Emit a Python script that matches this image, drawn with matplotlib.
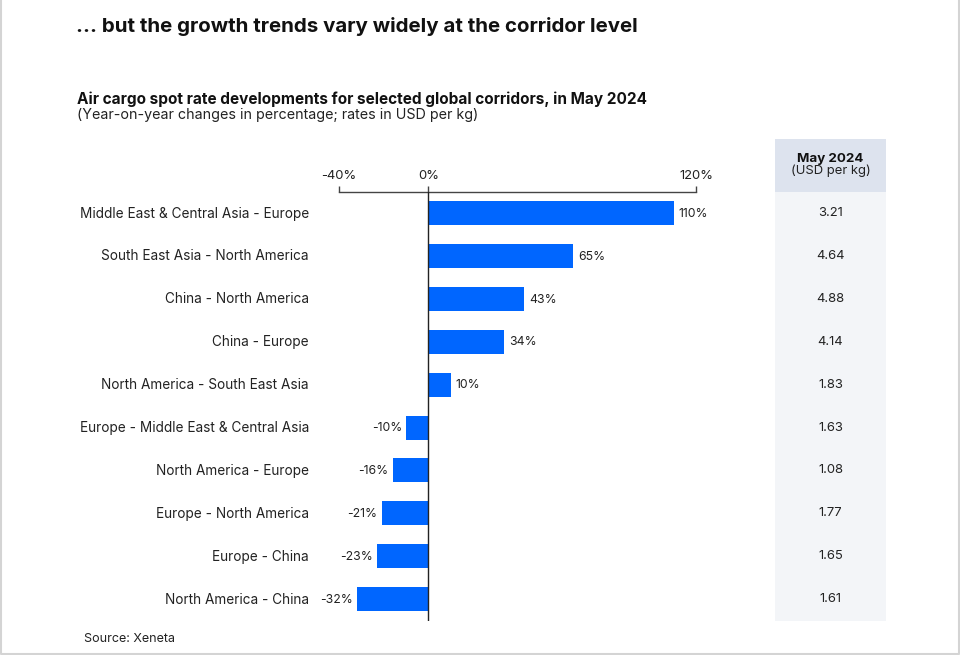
import matplotlib.pyplot as plt
from matplotlib.lines import Line2D
from matplotlib.transforms import ScaledTranslation

plt.rcParams['font.family'] = ['Inter', 'DejaVu Sans']

# Data
corridors = ['Middle East & Central Asia - Europe', 'South East Asia - North America',
             'China - North America', 'China - Europe', 'North America - South East Asia',
             'Europe - Middle East & Central Asia', 'North America - Europe',
             'Europe - North America', 'Europe - China', 'North America - China']
yoy_change = [110, 65, 43, 34, 10, -10, -16, -21, -23, -32]
rates = ['3.21', '4.64', '4.88', '4.14', '1.83', '1.63', '1.08', '1.77', '1.65', '1.61']
xticks = [-40, 0, 120]

W, H = 960, 655
BLUE = '#0066ff'
DARK = '#222222'

fig = plt.figure(figsize=(W / 100, H / 100), dpi=100)


# pixel position in the picture -> figure rectangle
def px_axes(x0, y0, x1, y1):
    return [x0 / W, 1 - y1 / H, (x1 - x0) / W, (y1 - y0) / H]


def px_text(x, y, s, **kw):
    fig.text(x / W, 1 - y / H, s, va='center', **kw)


# thin frame on the left, right and bottom of the slide (no top edge)
fig.add_artist(Line2D([0.0008, 0.0008, 0.9992, 0.9992], [1, 0.002, 0.002, 1],
                      transform=fig.transFigure, color='#d4d4d4', lw=1.5))

# Titles
px_text(76, 27, '... but the growth trends vary widely at the corridor level',
        fontsize=14.75, fontweight='bold', color='#111111')
px_text(77, 99, 'Air cargo spot rate developments for selected global corridors, in May 2024',
        fontsize=11.05, fontweight='bold', color='#111111')
px_text(77, 115, '(Year-on-year changes in percentage; rates in USD per kg)',
        fontsize=10.3, color=DARK)
px_text(84, 639, 'Source: Xeneta', fontsize=9, color=DARK)

# Bars
ax = fig.add_axes(px_axes(339.2, 192, 696, 621))
y_pos = list(range(len(corridors)))
ax.barh(y_pos, yoy_change, height=0.56, color=BLUE, zorder=2)
ax.set_xlim(-40, 120)
ax.set_ylim(len(corridors) - 0.49, -0.49)

for i, v in enumerate(yoy_change):
    if v >= 0:
        ax.annotate(f'{v}%', (v, i), xytext=(3.6, -0.5), textcoords='offset points',
                    ha='left', va='center', fontsize=8.8, color=DARK)
    else:
        ax.annotate(f'{v}%', (v, i), xytext=(-3, -0.5), textcoords='offset points',
                    ha='right', va='center', fontsize=8.8, color=DARK)

ax.spines[['left', 'right', 'bottom']].set_visible(False)
ax.spines['top'].set_color('#444444')
ax.spines['top'].set_linewidth(1)
ax.patch.set_visible(False)
ax.axvline(0, color='#222222', lw=1, zorder=3)

ax.xaxis.tick_top()
ax.set_xticks(xticks)
ax.set_xticklabels([f'{t}%' for t in xticks], fontsize=9.4, color=DARK)
ax.tick_params(axis='x', length=4.5, width=1, color='#444444', pad=3)

ax.set_yticks(y_pos)
ax.set_yticklabels(corridors, fontsize=9.8, color=DARK)
ax.tick_params(axis='y', length=0, pad=21.8)
# labels sit a touch higher than the bar centres
for label in ax.get_yticklabels():
    label.set_transform(label.get_transform() + ScaledTranslation(0, 1 / 100, fig.dpi_scale_trans))

# Rate column next to the bars
rate_ax = fig.add_axes(px_axes(775, 192, 886, 621), sharey=ax, facecolor='#f3f5f8')
rate_ax.set_xlim(0, 1)
for spine in rate_ax.spines.values():
    spine.set_visible(False)
rate_ax.tick_params(left=False, bottom=False, labelleft=False, labelbottom=False)
for i, r in enumerate(rates):
    rate_ax.text(0.5, i, r, ha='center', va='center', fontsize=9.4, color=DARK)

head_ax = fig.add_axes(px_axes(775, 139, 886, 192), facecolor='#dde3ee')
head_ax.set_xticks([])
head_ax.set_yticks([])
for spine in head_ax.spines.values():
    spine.set_visible(False)
px_text(830.5, 159, 'May 2024', ha='center', fontsize=9.6, fontweight='bold', color='#111111')
px_text(830.5, 171, '(USD per kg)', ha='center', fontsize=9.4, color=DARK)

fig.savefig('out.png', dpi=100)
